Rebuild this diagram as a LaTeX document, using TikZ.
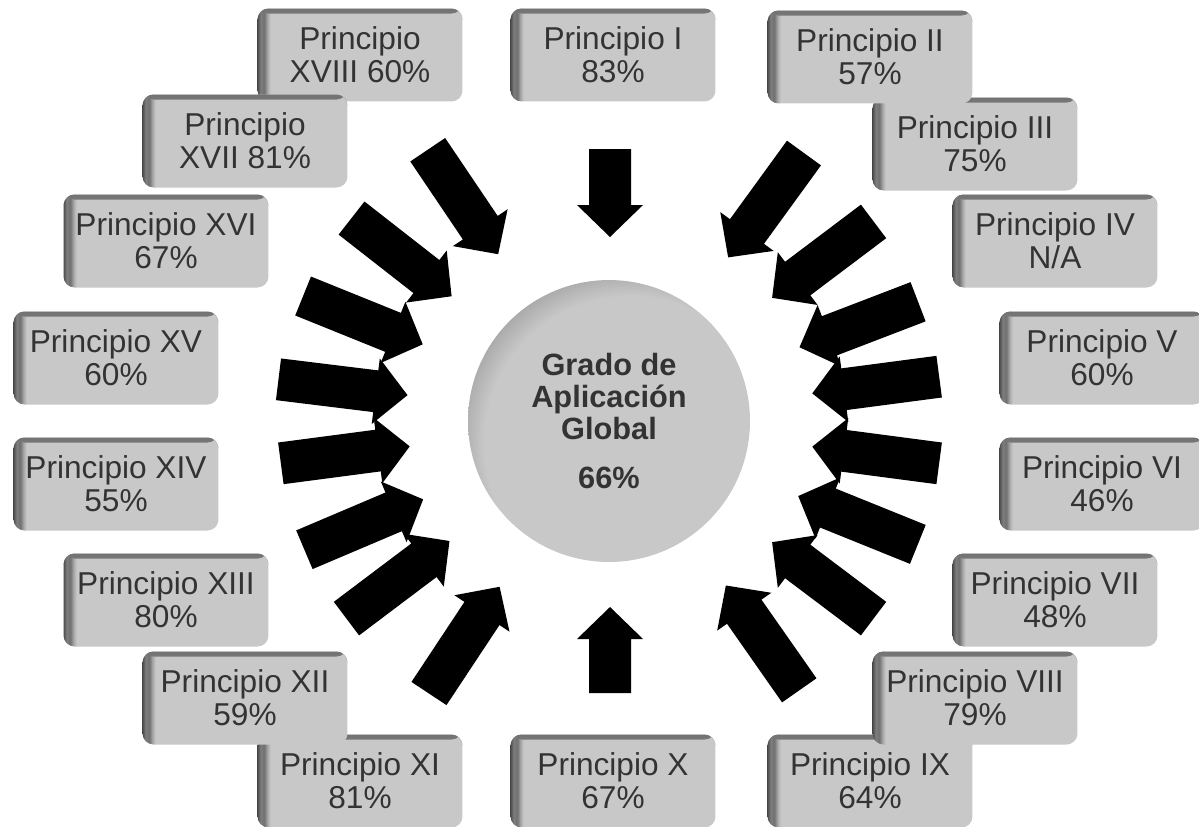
\documentclass[tikz,border=0pt]{standalone}
\usepackage{fontspec}
\setmainfont{Liberation Sans}
\definecolor{BoxGray}{HTML}{C8C8C8}
\pgfdeclarehorizontalshading{boxshade}{100bp}{color(0bp)=(black!70); color(25bp)=(black!70); color(25.8bp)=(black!50); color(26.6bp)=(BoxGray!55!black); color(27.5bp)=(BoxGray!85!black); color(28.2bp)=(BoxGray); color(100bp)=(BoxGray)}
\pgfdeclareradialshading{hubshade}{\pgfpoint{8bp}{-8bp}}{color(0bp)=(BoxGray); color(26bp)=(BoxGray); color(31bp)=(BoxGray!80!black); color(34bp)=(BoxGray!50!black); color(37bp)=(black!80); color(50bp)=(black!80)}

\begin{document}
\begin{tikzpicture}[x=0.02cm,y=0.02cm,
			every node/.style={font=\fontsize{18}{18.8}\selectfont, text=black!80},
			principio/.style={rectangle, rounded corners=0.22cm, minimum width=4.1cm, minimum height=1.86cm,
				inner sep=0pt, align=center, shade, shading=boxshade,
				path picture={\shade[top color=black!55, bottom color=BoxGray]
					(path picture bounding box.north west) rectangle ([yshift=-0.1cm]path picture bounding box.north east);}},
			hub/.style={circle, minimum size=5.64cm, inner sep=0pt, align=center, shade, shading=hubshade,
				font=\bfseries\fontsize{17.5}{18.2}\selectfont}
		]
		\useasboundingbox (0,0) rectangle (1199,-826);
		\node (global) [hub] at (609,-421) {Grado de\\Aplicación\\Global\\[9.7pt]66\%};
		\begin{scope}[shift={(610,-420)}]
			\foreach \ang/\rtip/\rtail in {90/183/271, 270/187/273,
					54/201/330, 37/203/330, 21/203/330, 7.5/204/332, -7.5/204/332, -22/203/332, -37/203/330, -55/202/330,
					124/200/326, 142/201/328, 158/202/331, 173/204/334, 187.5/202/332, 203/203/332, 217/201/330, 236.5/200/328}
				\fill[black, rotate=\ang] (\rtip,0) -- (\rtip+32,33) -- (\rtip+32,21) -- (\rtail,21)
					-- (\rtail,-21) -- (\rtip+32,-21) -- (\rtip+32,-33) -- cycle;
		\end{scope}
		\node (p1) [principio] at (613,-55) {Principio I\\83\%};
		\node (p3) [principio] at (975,-144) {Principio III\\75\%};
		\node (p2) [principio] at (870,-57) {Principio II\\57\%};
		\node (p4) [principio] at (1055,-241) {Principio IV\\N/A};
		\node (p5) [principio] at (1102,-358) {Principio V\\60\%};
		\node (p6) [principio] at (1102,-484) {Principio VI\\46\%};
		\node (p7) [principio] at (1055,-600) {Principio VII\\48\%};
		\node (p9) [principio] at (870,-781) {Principio IX\\64\%};
		\node (p8) [principio] at (975,-698) {Principio VIII\\79\%};
		\node (p10) [principio] at (613,-781) {Principio X\\67\%};
		\node (p11) [principio] at (360,-781) {Principio XI\\81\%};
		\node (p12) [principio] at (245,-698) {Principio XII\\59\%};
		\node (p13) [principio] at (166,-600) {Principio XIII\\80\%};
		\node (p14) [principio] at (116,-484) {Principio XIV\\55\%};
		\node (p15) [principio] at (116,-358) {Principio XV\\60\%};
		\node (p16) [principio] at (166,-241) {Principio XVI\\67\%};
		\node (p18) [principio] at (360,-55) {Principio\\XVIII 60\%};
		\node (p17) [principio] at (245,-141) {Principio\\XVII 81\%};
	\end{tikzpicture}
\end{document}
